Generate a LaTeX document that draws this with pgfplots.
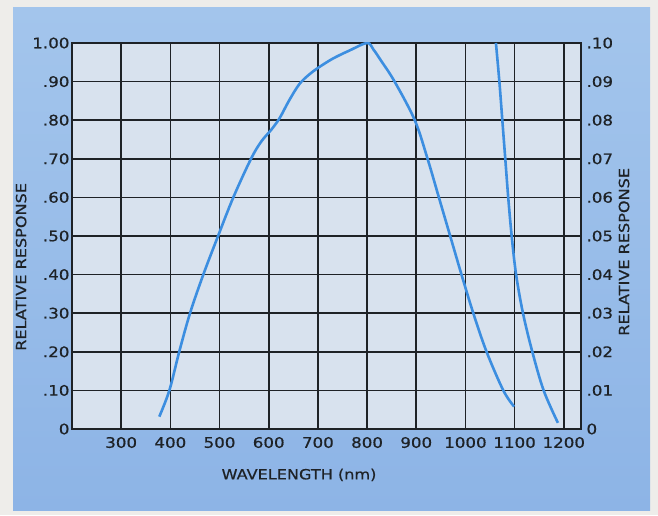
\documentclass[border=0pt]{standalone}
\usepackage{fontspec}
\setmainfont[FakeStretch=1.15,FakeBold=0.6]{DejaVu Sans}
\usepackage{pgfplots}
\pgfplotsset{compat=1.18}
\definecolor{outerbg}{HTML}{EEEDEA}
\definecolor{paneltop}{HTML}{A3C5EC}
\definecolor{panelbot}{HTML}{8DB4E6}
\definecolor{plotbg}{HTML}{D8E2EE}
\definecolor{curve}{HTML}{3C8EE0}
\definecolor{gridc}{HTML}{1E2226}
\begin{document}
\begin{tikzpicture}[x=1pt,y=1pt]
\useasboundingbox (0,0) rectangle (658,515);
\fill[outerbg] (0,0) rectangle (658,515);
\shade[top color=paneltop,bottom color=panelbot] (13,5) rectangle (650,507);
\begin{axis}[
  at={(72pt,86pt)}, anchor=south west, scale only axis,
  width=509pt, height=386pt,
  xmin=200, xmax=1235, ymin=0, ymax=1,
  axis background/.style={fill=plotbg},
  xtick={300,400,500,600,700,800,900,1000,1100,1200},
  ytick={0,0.1,0.2,0.3,0.4,0.5,0.6,0.7,0.8,0.9,1.0},
  yticklabels={0,.10,.20,.30,.40,.50,.60,.70,.80,.90,1.00},
  grid=major,
  major grid style={gridc, line width=1.6pt},
  axis line style={gridc, line width=1.6pt},
  major tick length=0pt,
  /pgf/number format/assume math mode=true,
  /pgf/number format/set thousands separator={},
  tick label style={font=\fontsize{14.5}{16}\selectfont, text=gridc},
  xticklabel style={yshift=-4.5pt},
  yticklabel style={xshift=1pt},
  label style={font=\fontsize{14}{16}\selectfont, text=gridc},
  xlabel={WAVELENGTH (nm)},
  xlabel style={at={(axis description cs:0.446,-0.119)}, anchor=center},
  ylabel={RELATIVE RESPONSE},
  ylabel style={at={(axis description cs:-0.100,0.42)}, anchor=center, rotate=0},
]
\addplot[curve, line width=2.6pt, smooth, tension=0.55] coordinates {
(377.5,0.032) (398,0.10) (418,0.20) (440,0.30) (467,0.40) (497,0.50)
(528,0.60) (564,0.70) (585,0.745) (605,0.775) (622,0.805) (641,0.85)
(662,0.893) (682,0.918) (702,0.937) (731,0.96) (765,0.981) (800,1.00)
(813,0.983) (828,0.955) (856,0.90) (897,0.80) (923,0.70) (946,0.60)
(969,0.50) (992,0.40) (1016,0.30) (1043,0.20) (1077,0.10) (1099,0.058)
};
\end{axis}
\begin{axis}[
  at={(72pt,86pt)}, anchor=south west, scale only axis,
  width=509pt, height=386pt,
  xmin=200, xmax=1235, ymin=0, ymax=0.1,
  axis y line*=right, hide x axis,
  ytick={0,0.01,0.02,0.03,0.04,0.05,0.06,0.07,0.08,0.09,0.1},
  yticklabels={0,.01,.02,.03,.04,.05,.06,.07,.08,.09,.10},
  axis line style={gridc, line width=1.6pt},
  major tick length=0pt,
  /pgf/number format/assume math mode=true,
  tick label style={font=\fontsize{14.5}{16}\selectfont, text=gridc},
  yticklabel style={xshift=2pt},
  label style={font=\fontsize{14}{16}\selectfont, text=gridc},
  ylabel={RELATIVE RESPONSE},
  ylabel style={at={(axis description cs:1.0845,0.459)}, anchor=center, rotate=0},
]
\addplot[curve, line width=2.6pt, smooth, tension=0.55] coordinates {
(1062,0.100) (1069,0.090) (1075,0.080) (1081,0.070) (1087,0.060)
(1094,0.050) (1103,0.040) (1117,0.030) (1136,0.020) (1159,0.010)
(1188,0.0016)
};
\end{axis}
\end{tikzpicture}
\end{document}
